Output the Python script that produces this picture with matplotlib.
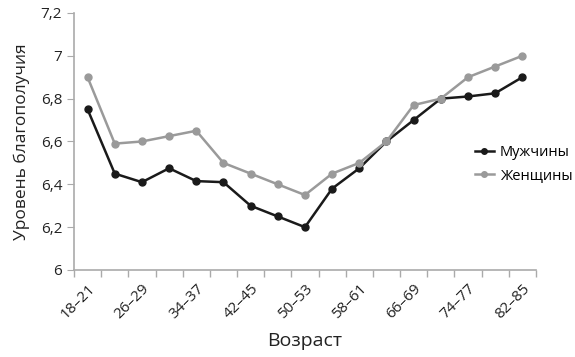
import matplotlib as mpl
mpl.use('Agg')
import matplotlib.pyplot as plt
from matplotlib.ticker import FuncFormatter, FixedLocator

plt.rcParams['font.family'] = ['Open Sans', 'DejaVu Sans']

ages = ["18–21", "22–25", "26–29", "30–33", "34–37", "38–41", "42–45", "46–49",
        "50–53", "54–57", "58–61", "62–65", "66–69", "70–73", "74–77", "78–81", "82–85"]
men = [6.75, 6.45, 6.41, 6.475, 6.415, 6.41, 6.30, 6.25, 6.20,
       6.38, 6.475, 6.60, 6.70, 6.80, 6.81, 6.825, 6.90]
women = [6.90, 6.59, 6.60, 6.625, 6.65, 6.50, 6.45, 6.40, 6.35,
         6.45, 6.50, 6.60, 6.77, 6.80, 6.90, 6.95, 7.00]

fig = plt.figure(figsize=(5.75, 3.57), dpi=100)
ax = fig.add_axes([0.1287, 0.2437, 0.8033, 0.72])

x = list(range(len(ages)))
l_m, = ax.plot(x, men, color="#1a1a1a", lw=1.8, marker='o', ms=5, label="Мужчины")
l_w, = ax.plot(x, women, color="#9a9a9a", lw=1.8, marker='o', ms=5, label="Женщины")

ax.set_xlim(-0.5, len(ages) - 0.5)
ax.set_ylim(6, 7.2)
ax.set_yticks([6, 6.2, 6.4, 6.6, 6.8, 7, 7.2])

def fmt(v, pos):
    s = f"{v:.1f}".replace(".", ",")
    return s[:-2] if s.endswith(",0") else s
ax.yaxis.set_major_formatter(FuncFormatter(fmt))

ax.set_xticks(x[::2])
ax.set_xticklabels(ages[::2], rotation=45, ha='right', rotation_mode='anchor')
ax.xaxis.set_minor_locator(FixedLocator([i - 0.5 for i in range(len(ages) + 1)]))
ax.tick_params(axis='x', which='major', length=0, pad=8, labelsize=11, colors='#222222')
ax.tick_params(axis='x', which='minor', length=5, color='#aaaaaa', width=1)
ax.tick_params(axis='y', length=5, colors='#aaaaaa', labelcolor='#222222', labelsize=11)

for sp in ['top', 'right']:
    ax.spines[sp].set_visible(False)
for sp in ['left', 'bottom']:
    ax.spines[sp].set_color('#aaaaaa')
    ax.spines[sp].set_linewidth(1.2)

ax.set_xlabel("Возраст", fontsize=14, color='#222222', labelpad=7)
ax.set_ylabel("Уровень благополучия", fontsize=12.5, color='#222222', labelpad=8)

fig.legend(handles=[l_m, l_w], loc='center left', bbox_to_anchor=(0.826, 0.54),
           frameon=False, fontsize=10.5, handlelength=1.3, handletextpad=0.4,
           labelspacing=0.6, markerscale=0.8, borderaxespad=0, borderpad=0)

fig.savefig("out.png", dpi=100)
